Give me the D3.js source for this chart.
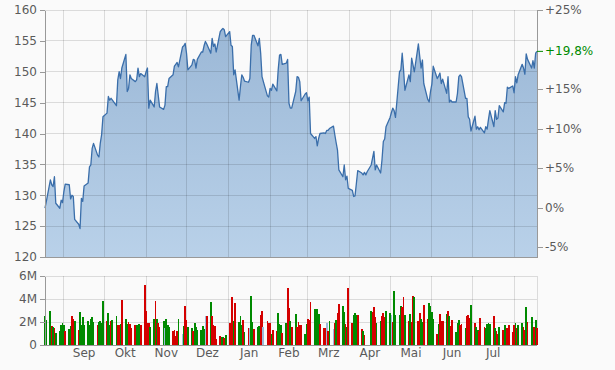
<!DOCTYPE html>
<html lang="de">
<head>
<meta charset="UTF-8">
<title>Kursverlauf</title>
<script src="https://d3js.org/d3.v7.min.js"></script>
<style>
  body { margin: 0; background: #fafafa; }
  svg text { font-family: "DejaVu Sans", Verdana, sans-serif; font-size: 12px; }
</style>
</head>
<body>
<script>
// closing prices, one per trading day
const prices = [
  127.9,129.0,132.5,131.7,131.4,133.0,128.7,127.9,129.2,128.8,
  130.6,131.8,131.7,129.4,130.0,129.8,126.1,125.3,124.6,129.5,
  129.0,131.5,132.0,134.6,134.9,137.6,138.4,136.5,136.2,138.4,
  139.8,142.7,143.3,146.0,145.4,145.7,145.4,144.5,148.7,150.0,
  148.9,150.6,152.8,146.8,147.3,149.5,148.9,148.4,148.7,150.6,
  149.2,149.7,149.2,150.0,150.6,144.1,145.4,144.3,146.8,148.1,
  146.2,144.3,143.9,144.6,147.6,147.6,148.9,149.5,150.9,151.2,
  151.5,150.8,154.0,154.2,154.6,153.0,150.3,151.1,152.0,151.9,
  150.6,152.0,153.2,153.2,154.2,154.9,154.5,153.0,155.4,
  154.1,154.5,153.2,156.5,156.8,157.0,156.8,155.7,156.5,154.3,
  154.1,149.5,150.3,145.4,147.6,149.5,149.1,148.5,148.3,148.9,
  154.3,155.9,155.9,154.2,155.4,153.0,149.2,148.4,146.1,145.9,
  147.3,147.0,148.0,146.9,150.3,152.7,152.8,151.2,151.4,152.0,
  144.9,144.1,144.1,146.8,149.2,149.1,148.4,145.3,146.4,146.6,
  145.3,145.9,140.0,139.2,139.5,138.0,139.2,140.0,140.1,140.0,
  140.5,140.5,140.8,141.2,139.8,138.5,137.3,134.1,133.0,134.9,
  132.5,133.1,131.1,130.8,129.8,129.9,131.9,134.0,133.6,133.3,
  133.7,133.3,133.8,134.9,136.0,137.1,134.1,
  134.9,133.6,135.7,138.7,139.1,141.1,142.6,143.4,144.1,143.7,
  142.6,150.0,150.3,153.0,150.3,147.0,149.5,148.4,152.2,151.1,
  150.0,154.5,152.5,150.6,151.9,148.1,145.5,145.1,146.8,148.0,
  150.9,148.9,149.3,149.8,148.1,148.8,146.5,149.2,145.1,145.4,
  145.1,145.1,146.5,149.2,149.5,149.2,145.7,145.7,142.7,142.3,
  140.4,142.8,140.7,141.1,140.6,141.0,140.1,141.1,140.7,142.3,
  143.7,141.1,143.7,142.3,142.5,144.5,143.5,145.0,144.9,147.5,
  147.3,147.7,146.6,149.2,148.2,149.5,151.2,150.6,149.6,152.9,
  152.0,150.6,151.8,150.6,153.0,153.3
];

// traded volume in millions, one per trading day
const volumes = [
  2.5,2.2,3.0,1.65,1.6,1.5,1.07,1.2,1.75,1.9, 1.75,1.2,1.4,1.65,2.5,2.25,2.1,1.3,2.9,1.75,
  2.45,1.7,2.1,1.75,2.25,2.45,2.0,1.75,2.0,2.1, 1.9,3.8,2.1,2.8,1.75,2.1,2.2,2.5,1.75,1.75,
  1.8,3.9,2.25,1.8,2.0,1.8,1.5,1.75,1.75,1.5, 1.8,1.75,5.2,3.0,1.9,1.9,1.6,2.25,3.8,2.25,
  1.9,1.6,2.1,1.5,2.25,1.75,1.55,1.2,1.3,0.8, 1.2,2.25,1.0,1.65,3.4,2.2,1.55,1.5,1.2,1.9,
  1.55,1.3,
  1.3,1.65,1.4,2.5,2.5,3.7,2.5,1.75,1.65,0.5, 0.8,0.7,0.7,0.6,0.87,1.9,1.8,4.2,2.1,3.65,
  2.0,2.5,1.75,2.2,1.1,1.5,1.5,4.26,2.0,1.4, 1.55,1.65,2.6,3.0,1.55,2.1,1.9,1.9,1.0,1.3,
  1.2,2.8,1.8,1.75,1.05,1.9,4.96,3.25,2.1,1.55, 2.7,1.6,2.0,1.75,1.7,0.95,1.8,2.25,2.2,3.7,
  3.1,3.1,3.1,2.7,1.8,1.5,1.5,1.9,1.2,2.1, 1.4,1.9,2.2,2.8,3.55,3.4,2.9,1.8,1.55,5.0,
  1.9,2.6,2.8,2.6,2.6,1.4,1.2,0.9,0,0, 2.95,2.9,3.3,2.4,1.9,2.1,2.5,2.8,2.4,3.0,
  2.8,2.6,2.0,4.7,2.6,2.6,
  3.4,3.3,4.2,2.6,2.1,2.7,2.0,4.26,4.2,2.1, 2.8,2.25,2.0,3.5,2.25,3.65,3.4,2.9,2.25,1.0,
  1.8,2.7,2.1,2.1,2.7,3.0,2.5,1.65,2.2,1.1, 1.9,2.2,1.75,1.8,1.5,2.5,2.6,2.35,3.5,1.9,
  1.6,1.3,1.2,2.35,1.55,1.5,1.8,1.9,1.8,2.5, 1.5,1.2,0.95,1.55,1.3,1.75,1.3,1.5,1.75,1.1,
  1.75,1.9,1.5,1.75,1.9,1.55,1.3,3.3,2.0,2.45, 1.05,1.55,2.2,1.5
];

// day direction for the volume bars: g = up, r = down, b = unchanged
const moves = (
  'gggrgrgggg' + 'grggrrgrgg' + 'gggggggrgg' + 'ggrggrggrr' + 'grggrrrrgg' +
  'grrrrrggrg' + 'rrgbgggrrr' + 'rgbgrrggrg' + 'gg' +
  'gggbrgrrrr' + 'rggrgrrrgr' + 'gggrgrbggr' + 'ggrrbrrrgr' + 'rgggrgrrgr' +
  'grrrrggrrr' + 'ggggrrrbrg' + 'brgrrggrgr' + 'rgggrrgrrr' + 'grrrggrrrg' + 'gbrggg' +
  'grrgrgrrgr' + 'rggrrggggr' + 'grrrgrgrrg' + 'ggrrgrrrgr' + 'ggrrrggggr' +
  'grrgrggrrr' + 'rgrggrrgrg' + 'grgr'
).split('');

const monthNames = ['Sep', 'Okt', 'Nov', 'Dez', 'Jan', 'Feb', 'Mrz', 'Apr', 'Mai', 'Jun', 'Jul'];
const priceTicks = [120, 125, 130, 135, 140, 145, 150, 155, 160];
const pctTicks = [-5, 0, 5, 10, 15, 25];
const volTicks = [0, 2, 4, 6];
const basePrice = 128;

const startDate = new Date(2022, 7, 18);
const endDate = new Date(2023, 7, 18);

const width = 615, height = 370;
const left = 45, right = 537;
const mainTop = 10, mainBottom = 257;
const volTop = 276, volBottom = 345;

const colors = { g: '#008a00', r: '#d40000', b: '#9dbbdb' };
const gridColor = 'rgba(0,0,0,0.12)';
const axisColor = '#999';
const textColor = '#5a5a5a';

// trading days = weekdays in the range
const days = d3.timeDay.range(startDate, d3.timeDay.offset(endDate, 1))
  .filter(d => d.getDay() % 6 !== 0);

const rows = prices.map((p, i) => ({
  date: days[i], price: p, vol: volumes[i], move: moves[i]
}));

let x = d3.scaleTime().domain([startDate, endDate]).range([left, right]);
let y = d3.scaleLinear().domain([120, 160]).range([mainBottom, mainTop]);
let yPct = d3.scaleLinear()
  .domain([(120 / basePrice - 1) * 100, (160 / basePrice - 1) * 100])
  .range([mainBottom, mainTop]);
let yVol = d3.scaleLinear().domain([0, 6]).range([volBottom, volTop]);

const monthStarts = d3.timeMonth.range(d3.timeMonth.ceil(startDate), endDate);

var svg = d3.select('body').append('svg').attr('width', width).attr('height', height);
svg.append('rect').attr('width', width).attr('height', height).attr('fill', '#fafafa');

const defs = svg.append('defs');
const grad = defs.append('linearGradient').attr('id', 'areaFill')
  .attr('gradientUnits', 'userSpaceOnUse')
  .attr('x1', 0).attr('x2', 0).attr('y1', mainTop).attr('y2', mainBottom);
grad.append('stop').attr('offset', 0).attr('stop-color', '#99b6d5');
grad.append('stop').attr('offset', 1).attr('stop-color', '#b9d1e9');

// price area + line
let area = d3.area().x(d => x(d.date)).y0(mainBottom).y1(d => y(d.price));
let line = d3.line().x(d => x(d.date)).y(d => y(d.price));

svg.append('path').datum(rows).attr('fill', 'url(#areaFill)').attr('d', area);

// grid, main panel
const grid = svg.append('g').attr('stroke', gridColor).attr('shape-rendering', 'crispEdges');
grid.selectAll('line.h').data(priceTicks.slice(1)).join('line')
  .attr('x1', left).attr('x2', right).attr('y1', d => y(d)).attr('y2', d => y(d));
grid.selectAll('line.v').data(monthStarts).join('line')
  .attr('x1', d => x(d)).attr('x2', d => x(d)).attr('y1', mainTop).attr('y2', mainBottom);

svg.append('path').datum(rows)
  .attr('fill', 'none').attr('stroke', '#3a6eaa').attr('stroke-width', 1.3)
  .attr('stroke-linejoin', 'round').attr('d', line);

// grid, volume panel
const vgrid = svg.append('g').attr('stroke', gridColor).attr('shape-rendering', 'crispEdges');
vgrid.selectAll('line.h').data(volTicks.slice(1)).join('line')
  .attr('x1', left).attr('x2', right).attr('y1', d => yVol(d)).attr('y2', d => yVol(d));
vgrid.selectAll('line.v').data(monthStarts.concat([endDate])).join('line')
  .attr('x1', d => Math.min(x(d), right)).attr('x2', d => Math.min(x(d), right))
  .attr('y1', volTop).attr('y2', volBottom);

// volume bars
svg.append('g').selectAll('rect').data(rows.filter(d => d.vol > 0)).join('rect')
  .attr('x', d => x(d.date) - 0.9)
  .attr('width', 1.8)
  .attr('y', d => yVol(d.vol))
  .attr('height', d => yVol(0) - yVol(d.vol))
  .attr('fill', d => colors[d.move])
  .attr('shape-rendering', 'crispEdges');

// axes
function styleAxis(g) {
  g.attr('font-size', null).attr('font-family', null).attr('color', axisColor);
  g.selectAll('text').attr('fill', textColor);
  g.selectAll('line, path').attr('shape-rendering', 'crispEdges');
}

svg.append('g').attr('transform', `translate(${left},0)`)
  .call(d3.axisLeft(y).tickValues(priceTicks).tickSize(5).tickSizeOuter(0).tickPadding(3))
  .call(styleAxis);

svg.append('g').attr('transform', `translate(${right},0)`)
  .call(d3.axisRight(yPct).tickValues(pctTicks).tickSize(6).tickSizeOuter(0).tickPadding(2)
    .tickFormat(d => (d > 0 ? '+' : '') + d + '%'))
  .call(styleAxis);

svg.append('line').attr('x1', left).attr('x2', right)
  .attr('y1', mainBottom).attr('y2', mainBottom)
  .attr('stroke', axisColor).attr('shape-rendering', 'crispEdges');

// current performance marker
const last = rows[rows.length - 1];
const lastPct = (last.price / basePrice - 1) * 100;
const cur = svg.append('g').attr('transform', `translate(${right},${yPct(lastPct)})`);
cur.append('line').attr('x2', 6).attr('stroke', '#008a00');
cur.append('text').attr('x', 8).attr('dy', '0.32em').attr('fill', '#008a00')
  .text('+' + lastPct.toFixed(1).replace('.', ',') + '%');

svg.append('g').attr('transform', `translate(${left},0)`)
  .call(d3.axisLeft(yVol).tickValues(volTicks).tickSize(5).tickSizeOuter(0).tickPadding(3)
    .tickFormat(d => d ? d + 'M' : '0'))
  .call(styleAxis);

svg.append('line').attr('x1', left).attr('x2', right)
  .attr('y1', volBottom).attr('y2', volBottom)
  .attr('stroke', axisColor).attr('shape-rendering', 'crispEdges');

// month labels in the middle of each month
svg.append('g').selectAll('text').data(monthNames).join('text')
  .attr('x', (d, i) => (x(monthStarts[i]) + x(monthStarts[i + 1])) / 2)
  .attr('y', 357)
  .attr('text-anchor', 'middle')
  .attr('fill', textColor)
  .text(d => d);
</script>
</body>
</html>
